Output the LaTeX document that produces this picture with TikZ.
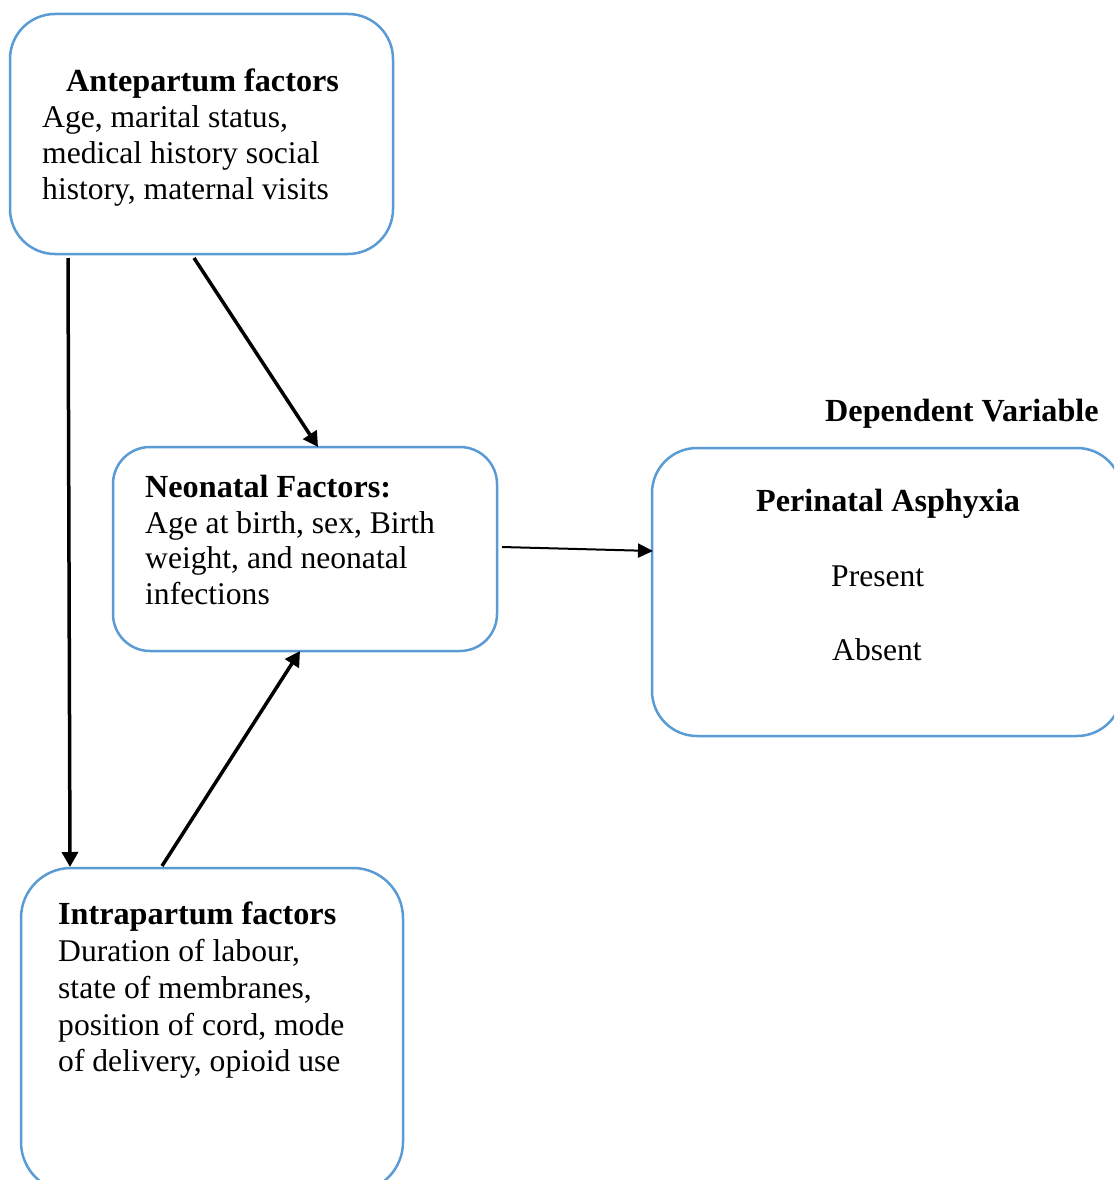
\documentclass[tikz,border=0pt]{standalone}
\usepackage{fontspec}
\setmainfont{Liberation Serif}
\usetikzlibrary{arrows.meta}
\definecolor{boxblue}{RGB}{91,155,213}
\tikzset{
  box/.style={draw=boxblue, line width=2.5pt, rectangle, inner sep=0pt},
  body/.style={anchor=base west, inner sep=0pt, font=\fontsize{31.6}{36}\selectfont},
  head/.style={anchor=base west, inner sep=0pt, font=\fontsize{32.2}{36}\selectfont\bfseries},
  arr/.style={line width=3.5pt, -{Triangle[length=15pt,width=16pt]}},
  thinarr/.style={line width=2pt, -{Triangle[length=15pt,width=14pt]}}
}
\begin{document}
\begin{tikzpicture}[x=1pt,y=-1pt]
\useasboundingbox (0,0) rectangle (1114,1180);
\clip (0,0) rectangle (1114,1180);
\fill[white] (0,0) rectangle (1114,1180);
% boxes
\node[box, rounded corners=45pt, minimum width=383pt, minimum height=240pt] (ante) at (201.5,134) {};
\node[box, rounded corners=37pt, minimum width=384pt, minimum height=204pt] (neo) at (305,549) {};
\node[box, rounded corners=45pt, minimum width=470pt, minimum height=288pt] (peri) at (887,592) {};
\node[box, rounded corners=50pt, minimum width=382pt, minimum height=324pt] (intra) at (212,1030) {};
% texts
\node[head] (anteh) at (66,92) {Antepartum factors};
\node[body] (ante1) at (42,128) {Age, marital status,};
\node[body] (ante2) at (42,163) {medical history social};
\node[body] (ante3) at (42,199) {history, maternal visits};
\node[head] (neoh) at (145,497) {Neonatal Factors:};
\node[body] (neo1) at (145,533) {Age at birth, sex, Birth};
\node[body] (neo2) at (145,568) {weight, and neonatal};
\node[body] (neo3) at (145,604) {infections};
\node[head] (dep) at (825,421) {Dependent Variable};
\node[head] (perih) at (756,511) {Perinatal Asphyxia};
\node[body] (peri1) at (831,586) {Present};
\node[body] (peri2) at (832,660) {Absent};
\node[head] (intrah) at (58,924) {Intrapartum factors};
\node[body] (intra1) at (58,961) {Duration of labour,};
\node[body] (intra2) at (58,998) {state of membranes,};
\node[body] (intra3) at (58,1035) {position of cord, mode};
\node[body] (intra4) at (58,1071) {of delivery, opioid use};
% connector end points
\coordinate (a1) at (68,258);
\coordinate (i1) at (70,867);
\coordinate (a2) at (194,258);
\coordinate (n1) at (318,447);
\coordinate (i2) at (162,866);
\coordinate (n2) at (300,651);
\coordinate (n3) at (502,547);
\coordinate (p1) at (653,551);
\draw[arr] (a1) -- (i1);
\draw[arr] (a2) -- (n1);
\draw[arr] (i2) -- (n2);
\draw[thinarr] (n3) -- (p1);
\end{tikzpicture}
\end{document}
